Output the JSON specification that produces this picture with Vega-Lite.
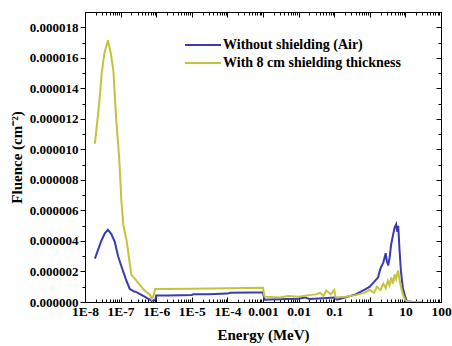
{
  "$schema": "https://vega.github.io/schema/vega-lite/v6.json",
  "width": 356,
  "height": 290,
  "autosize": {"type": "none"},
  "padding": {"left": 85, "top": 12, "right": 11, "bottom": 44},
  "background": "white",
  "config": {
    "view": {"stroke": "black", "strokeWidth": 1},
    "font": "Liberation Serif",
    "axis": {"grid": false, "domainColor": "black", "tickColor": "black", "labelColor": "black", "titleColor": "black", "labelFont": "Liberation Serif", "titleFont": "Liberation Serif", "labelFontWeight": "bold", "titleFontWeight": "bold"}
  },
  "data": {
    "values": [
      {"E": 1.9e-8, "F": 2.84e-6, "s": "Without shielding (Air)"},
      {"E": 2.9e-8, "F": 4.03e-6, "s": "Without shielding (Air)"},
      {"E": 3.6e-8, "F": 4.5e-6, "s": "Without shielding (Air)"},
      {"E": 4.4e-8, "F": 4.73e-6, "s": "Without shielding (Air)"},
      {"E": 5.5e-8, "F": 4.45e-6, "s": "Without shielding (Air)"},
      {"E": 6.9e-8, "F": 3.92e-6, "s": "Without shielding (Air)"},
      {"E": 8.5e-8, "F": 3.0e-6, "s": "Without shielding (Air)"},
      {"E": 1.07e-7, "F": 2.29e-6, "s": "Without shielding (Air)"},
      {"E": 1.4e-7, "F": 1.5e-6, "s": "Without shielding (Air)"},
      {"E": 1.8e-7, "F": 0.87e-6, "s": "Without shielding (Air)"},
      {"E": 2.3e-7, "F": 0.7e-6, "s": "Without shielding (Air)"},
      {"E": 2.8e-7, "F": 0.65e-6, "s": "Without shielding (Air)"},
      {"E": 3.6e-7, "F": 0.5e-6, "s": "Without shielding (Air)"},
      {"E": 4.9e-7, "F": 0.33e-6, "s": "Without shielding (Air)"},
      {"E": 6.0e-7, "F": 0.2e-6, "s": "Without shielding (Air)"},
      {"E": 7.4e-7, "F": 0.1e-6, "s": "Without shielding (Air)"},
      {"E": 8.5e-7, "F": 0.08e-6, "s": "Without shielding (Air)"},
      {"E": 9.5e-7, "F": 0.15e-6, "s": "Without shielding (Air)"},
      {"E": 1.0e-6, "F": 0.42e-6, "s": "Without shielding (Air)"},
      {"E": 2.0e-6, "F": 0.42e-6, "s": "Without shielding (Air)"},
      {"E": 5.0e-6, "F": 0.44e-6, "s": "Without shielding (Air)"},
      {"E": 1.0e-5, "F": 0.46e-6, "s": "Without shielding (Air)"},
      {"E": 1.1e-5, "F": 0.5e-6, "s": "Without shielding (Air)"},
      {"E": 3.0e-5, "F": 0.5e-6, "s": "Without shielding (Air)"},
      {"E": 1.0e-4, "F": 0.55e-6, "s": "Without shielding (Air)"},
      {"E": 1.2e-4, "F": 0.6e-6, "s": "Without shielding (Air)"},
      {"E": 5.0e-4, "F": 0.62e-6, "s": "Without shielding (Air)"},
      {"E": 1.0e-3, "F": 0.62e-6, "s": "Without shielding (Air)"},
      {"E": 1.1e-3, "F": 0.15e-6, "s": "Without shielding (Air)"},
      {"E": 3.0e-3, "F": 0.18e-6, "s": "Without shielding (Air)"},
      {"E": 5.0e-3, "F": 0.2e-6, "s": "Without shielding (Air)"},
      {"E": 1.0e-2, "F": 0.22e-6, "s": "Without shielding (Air)"},
      {"E": 1.5e-2, "F": 0.3e-6, "s": "Without shielding (Air)"},
      {"E": 2.0e-2, "F": 0.2e-6, "s": "Without shielding (Air)"},
      {"E": 5.0e-2, "F": 0.25e-6, "s": "Without shielding (Air)"},
      {"E": 0.1, "F": 0.3e-6, "s": "Without shielding (Air)"},
      {"E": 0.12, "F": 0.15e-6, "s": "Without shielding (Air)"},
      {"E": 0.2, "F": 0.3e-6, "s": "Without shielding (Air)"},
      {"E": 0.4, "F": 0.5e-6, "s": "Without shielding (Air)"},
      {"E": 0.7, "F": 0.8e-6, "s": "Without shielding (Air)"},
      {"E": 1.0, "F": 1.0e-6, "s": "Without shielding (Air)"},
      {"E": 1.3, "F": 1.3e-6, "s": "Without shielding (Air)"},
      {"E": 1.7, "F": 1.6e-6, "s": "Without shielding (Air)"},
      {"E": 2.0, "F": 2.2e-6, "s": "Without shielding (Air)"},
      {"E": 2.4, "F": 2.6e-6, "s": "Without shielding (Air)"},
      {"E": 2.8, "F": 3.2e-6, "s": "Without shielding (Air)"},
      {"E": 3.0, "F": 2.7e-6, "s": "Without shielding (Air)"},
      {"E": 3.3, "F": 2.4e-6, "s": "Without shielding (Air)"},
      {"E": 3.6, "F": 2.9e-6, "s": "Without shielding (Air)"},
      {"E": 4.0, "F": 3.8e-6, "s": "Without shielding (Air)"},
      {"E": 4.5, "F": 4.4e-6, "s": "Without shielding (Air)"},
      {"E": 5.0, "F": 4.9e-6, "s": "Without shielding (Air)"},
      {"E": 5.5, "F": 5.1e-6, "s": "Without shielding (Air)"},
      {"E": 5.9, "F": 4.6e-6, "s": "Without shielding (Air)"},
      {"E": 6.3, "F": 5.0e-6, "s": "Without shielding (Air)"},
      {"E": 6.8, "F": 3.5e-6, "s": "Without shielding (Air)"},
      {"E": 7.5, "F": 2.0e-6, "s": "Without shielding (Air)"},
      {"E": 8.5, "F": 0.9e-6, "s": "Without shielding (Air)"},
      {"E": 10, "F": 0.3e-6, "s": "Without shielding (Air)"},
      {"E": 11, "F": 0.05e-6, "s": "Without shielding (Air)"},
      {"E": 15, "F": 0.02e-6, "s": "Without shielding (Air)"},
      {"E": 30, "F": 0, "s": "Without shielding (Air)"},
      {"E": 1.9e-8, "F": 10.37e-6, "s": "With 8 cm shielding thickness"},
      {"E": 2.5e-8, "F": 13.0e-6, "s": "With 8 cm shielding thickness"},
      {"E": 2.95e-8, "F": 15.0e-6, "s": "With 8 cm shielding thickness"},
      {"E": 3.5e-8, "F": 16.3e-6, "s": "With 8 cm shielding thickness"},
      {"E": 4.4e-8, "F": 17.15e-6, "s": "With 8 cm shielding thickness"},
      {"E": 5.3e-8, "F": 16.3e-6, "s": "With 8 cm shielding thickness"},
      {"E": 6.3e-8, "F": 15.1e-6, "s": "With 8 cm shielding thickness"},
      {"E": 7.5e-8, "F": 12.0e-6, "s": "With 8 cm shielding thickness"},
      {"E": 9.1e-8, "F": 9.5e-6, "s": "With 8 cm shielding thickness"},
      {"E": 1.05e-7, "F": 6.65e-6, "s": "With 8 cm shielding thickness"},
      {"E": 1.2e-7, "F": 5.0e-6, "s": "With 8 cm shielding thickness"},
      {"E": 1.48e-7, "F": 4.0e-6, "s": "With 8 cm shielding thickness"},
      {"E": 2.0e-7, "F": 1.8e-6, "s": "With 8 cm shielding thickness"},
      {"E": 3.0e-7, "F": 1.3e-6, "s": "With 8 cm shielding thickness"},
      {"E": 4.5e-7, "F": 0.8e-6, "s": "With 8 cm shielding thickness"},
      {"E": 6.8e-7, "F": 0.45e-6, "s": "With 8 cm shielding thickness"},
      {"E": 7.5e-7, "F": 0.2e-6, "s": "With 8 cm shielding thickness"},
      {"E": 8.5e-7, "F": 0.45e-6, "s": "With 8 cm shielding thickness"},
      {"E": 9.3e-7, "F": 0.85e-6, "s": "With 8 cm shielding thickness"},
      {"E": 1.0e-6, "F": 0.85e-6, "s": "With 8 cm shielding thickness"},
      {"E": 1.0e-5, "F": 0.87e-6, "s": "With 8 cm shielding thickness"},
      {"E": 1.0e-4, "F": 0.9e-6, "s": "With 8 cm shielding thickness"},
      {"E": 1.0e-3, "F": 0.93e-6, "s": "With 8 cm shielding thickness"},
      {"E": 1.1e-3, "F": 0.35e-6, "s": "With 8 cm shielding thickness"},
      {"E": 3.0e-3, "F": 0.3e-6, "s": "With 8 cm shielding thickness"},
      {"E": 5.0e-3, "F": 0.4e-6, "s": "With 8 cm shielding thickness"},
      {"E": 1.0e-2, "F": 0.35e-6, "s": "With 8 cm shielding thickness"},
      {"E": 2.0e-2, "F": 0.45e-6, "s": "With 8 cm shielding thickness"},
      {"E": 3.0e-2, "F": 0.5e-6, "s": "With 8 cm shielding thickness"},
      {"E": 4.0e-2, "F": 0.6e-6, "s": "With 8 cm shielding thickness"},
      {"E": 5.0e-2, "F": 0.4e-6, "s": "With 8 cm shielding thickness"},
      {"E": 6.0e-2, "F": 0.75e-6, "s": "With 8 cm shielding thickness"},
      {"E": 8.0e-2, "F": 0.5e-6, "s": "With 8 cm shielding thickness"},
      {"E": 0.1, "F": 0.8e-6, "s": "With 8 cm shielding thickness"},
      {"E": 0.11, "F": 0.3e-6, "s": "With 8 cm shielding thickness"},
      {"E": 0.2, "F": 0.35e-6, "s": "With 8 cm shielding thickness"},
      {"E": 0.4, "F": 0.45e-6, "s": "With 8 cm shielding thickness"},
      {"E": 0.7, "F": 0.6e-6, "s": "With 8 cm shielding thickness"},
      {"E": 1.0, "F": 0.8e-6, "s": "With 8 cm shielding thickness"},
      {"E": 1.3, "F": 0.6e-6, "s": "With 8 cm shielding thickness"},
      {"E": 1.6, "F": 1.0e-6, "s": "With 8 cm shielding thickness"},
      {"E": 2.0, "F": 0.8e-6, "s": "With 8 cm shielding thickness"},
      {"E": 2.4, "F": 1.2e-6, "s": "With 8 cm shielding thickness"},
      {"E": 2.8, "F": 0.9e-6, "s": "With 8 cm shielding thickness"},
      {"E": 3.2, "F": 1.4e-6, "s": "With 8 cm shielding thickness"},
      {"E": 3.6, "F": 1.1e-6, "s": "With 8 cm shielding thickness"},
      {"E": 4.0, "F": 1.6e-6, "s": "With 8 cm shielding thickness"},
      {"E": 4.5, "F": 1.2e-6, "s": "With 8 cm shielding thickness"},
      {"E": 5.0, "F": 1.8e-6, "s": "With 8 cm shielding thickness"},
      {"E": 5.5, "F": 1.5e-6, "s": "With 8 cm shielding thickness"},
      {"E": 6.2, "F": 2.07e-6, "s": "With 8 cm shielding thickness"},
      {"E": 6.8, "F": 1.5e-6, "s": "With 8 cm shielding thickness"},
      {"E": 7.5, "F": 1.0e-6, "s": "With 8 cm shielding thickness"},
      {"E": 8.5, "F": 0.5e-6, "s": "With 8 cm shielding thickness"},
      {"E": 10, "F": 0.1e-6, "s": "With 8 cm shielding thickness"},
      {"E": 12, "F": 0.02e-6, "s": "With 8 cm shielding thickness"},
      {"E": 30, "F": 0, "s": "With 8 cm shielding thickness"}
    ]
  },
  "layer": [
    {
      "mark": {"type": "line", "strokeWidth": 2, "clip": true},
      "encoding": {
        "x": {
          "field": "E", "type": "quantitative",
          "scale": {"type": "log", "domain": [1e-8, 100], "nice": false},
          "axis": {
            "orient": "bottom", "title": "Energy (MeV)", "titleFontSize": 15, "titlePadding": 8,
            "tickCount": 30, "labelOverlap": false, "labelFlush": false, "labelFontSize": 13.5, "labelPadding": 7,
            "labelExpr": "abs(log(datum.value)/LN10 - round(log(datum.value)/LN10)) < 0.001 ? (datum.value < 0.001 ? '1E-' + round(-log(datum.value)/LN10) : format(datum.value, '~g')) : ''",
            "tickSize": {"condition": {"test": "abs(log(datum.value)/LN10 - round(log(datum.value)/LN10)) < 0.001", "value": -5}, "value": -3}
          }
        },
        "y": {
          "field": "F", "type": "quantitative",
          "scale": {"domain": [0, 1.9e-5], "nice": false},
          "axis": {
            "orient": "left", "title": "Fluence (cm⁻²)", "titleFontSize": 15, "titlePadding": 5,
            "values": [0, 1e-6, 2e-6, 3e-6, 4e-6, 5e-6, 6e-6, 7e-6, 8e-6, 9e-6, 1e-5, 1.1e-5, 1.2e-5, 1.3e-5, 1.4e-5, 1.5e-5, 1.6e-5, 1.7e-5, 1.8e-5],
            "labelExpr": "round(datum.value*1e6) % 2 == 0 ? format(datum.value, '.6f') : ''",
            "labelOverlap": false, "labelFontSize": 13, "labelPadding": 2,
            "tickSize": {"condition": {"test": "round(datum.value*1e6) % 2 == 0", "value": 5}, "value": 3}
          }
        },
        "color": {
          "field": "s", "type": "nominal",
          "scale": {"domain": ["Without shielding (Air)", "With 8 cm shielding thickness"], "range": ["#3a3ab4", "#c4c43c"]},
          "legend": {
            "orient": "none", "legendX": 99, "legendY": 24, "title": null,
            "symbolType": "M-1,0H3.5", "symbolSize": 256, "symbolStrokeWidth": 2,
            "labelFont": "Liberation Serif", "labelFontSize": 14, "labelFontWeight": "bold", "labelColor": "black",
            "rowPadding": 2, "labelOffset": 21, "labelLimit": 300
          }
        }
      }
    },
    {
      "mark": {"type": "line", "opacity": 0},
      "encoding": {
        "x": {
          "field": "E", "type": "quantitative",
          "axis": {"orient": "top", "title": null, "labels": false, "tickCount": 30,
            "tickSize": {"condition": {"test": "abs(log(datum.value)/LN10 - round(log(datum.value)/LN10)) < 0.001", "value": -5}, "value": -3}}
        },
        "y": {
          "field": "F", "type": "quantitative",
          "axis": {"orient": "right", "title": null, "labels": false,
            "values": [0, 1e-6, 2e-6, 3e-6, 4e-6, 5e-6, 6e-6, 7e-6, 8e-6, 9e-6, 1e-5, 1.1e-5, 1.2e-5, 1.3e-5, 1.4e-5, 1.5e-5, 1.6e-5, 1.7e-5, 1.8e-5],
            "tickSize": {"condition": {"test": "round(datum.value*1e6) % 2 == 0", "value": -5}, "value": -3}}
        }
      }
    }
  ],
  "resolve": {"axis": {"x": "independent", "y": "independent"}}
}
